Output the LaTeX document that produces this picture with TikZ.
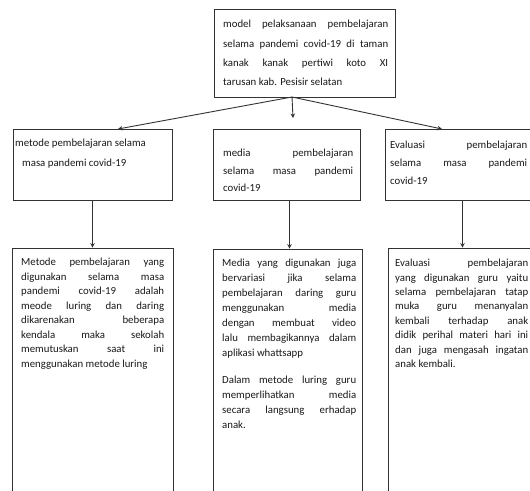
\documentclass[tikz,border=0pt]{standalone}
\usepackage{fontspec}
\setmainfont{Carlito}
\usetikzlibrary{arrows.meta}
\setlength{\parindent}{0pt}
\hyphenpenalty=10000
\exhyphenpenalty=10000
\begin{document}
\begin{tikzpicture}[x=1pt,y=-1pt,
  box/.style={draw=black!80, line width=0.9pt, rectangle, inner sep=0pt},
  txt/.style={anchor=north west, inner sep=0pt, align=justify, text=black!90, font=\fontsize{10.8}{#1}\selectfont},
  conn/.style={draw=black!80, line width=0.9pt, -{Stealth[length=4.5pt,width=4.5pt]}}]
\useasboundingbox[fill=white] (0,0) rectangle (530,490);
% boxes
\node[box, minimum width=181pt, minimum height=88pt] (top) at (304.5,53) {};
\node[box, minimum width=159pt, minimum height=71pt] (m1) at (92.5,164.5) {};
\node[box, minimum width=147pt, minimum height=71pt] (m2) at (286.5,164.5) {};
\node[box, minimum width=155pt, minimum height=71pt] (m3) at (462.5,164.5) {};
\node[box, minimum width=161pt, minimum height=247pt] (b1) at (92.5,371.5) {};
\node[box, minimum width=149pt, minimum height=246pt] (b2) at (287.5,372) {};
\node[box, minimum width=152pt, minimum height=247pt] (b3) at (464,371.5) {};
% texts
\node[txt=19.3, text width=165pt] (ttop) at (223,20) {model pelaksanaan pembelajaran\linebreak selama pandemi covid-19 di taman\linebreak kanak kanak pertiwi koto XI\linebreak tarusan kab. Pesisir selatan};
\node[txt=20, align=left] (tm1) at (15,139) {metode pembelajaran selama\\\hspace*{7pt}masa pandemi covid-19};
\node[txt=17.5, text width=130pt] (tm2) at (223,149) {media pembelajaran\linebreak selama masa pandemi\linebreak covid-19};
\node[txt=18, text width=137pt] (tm3) at (390,141) {Evaluasi pembelajaran\linebreak selama masa pandemi\linebreak covid-19};
\node[txt=14.5, text width=143pt] (tb1) at (21,258) {Metode pembelajaran yang\linebreak digunakan selama masa\linebreak pandemi covid-19 adalah\linebreak meode luring dan daring\linebreak dikarenakan beberapa\linebreak kendala maka sekolah\linebreak memutuskan saat ini\linebreak menggunakan metode luring};
\node[txt=15, text width=134pt] (tb2) at (222,259) {Media yang digunakan juga\linebreak bervariasi jika selama\linebreak pembelajaran daring guru\linebreak menggunakan media\linebreak dengan membuat video\linebreak lalu membagikannya dalam\linebreak aplikasi whattsapp\par\vspace{12pt}Dalam metode luring guru\linebreak memperlihatkan media\linebreak secara langsung erhadap\linebreak anak.};
\node[txt=14.4, text width=133pt] (tb3) at (395,259) {Evaluasi pembelajaran\linebreak yang digunakan guru yaitu\linebreak selama pembelajaran tatap\linebreak muka guru menanyalan\linebreak kembali terhadap anak\linebreak didik perihal materi hari ini\linebreak dan juga mengasah ingatan\linebreak anak kembali.};
% connectors
\coordinate (s) at (292,97);
\coordinate (e1) at (118,129);
\coordinate (e2) at (293,118);
\coordinate (e3) at (442,129);
\draw[conn] (s) -- (e1);
\draw[conn] (s) -- (e2);
\draw[conn] (s) -- (e3);
\draw[conn] (m1.south) -- (m1.south |- b1.north);
\draw[conn] ([xshift=3pt]m2.south) -- ([xshift=3pt]m2.south |- b2.north);
\draw[conn] (m3.south) -- (m3.south |- b3.north);
\end{tikzpicture}
\end{document}
